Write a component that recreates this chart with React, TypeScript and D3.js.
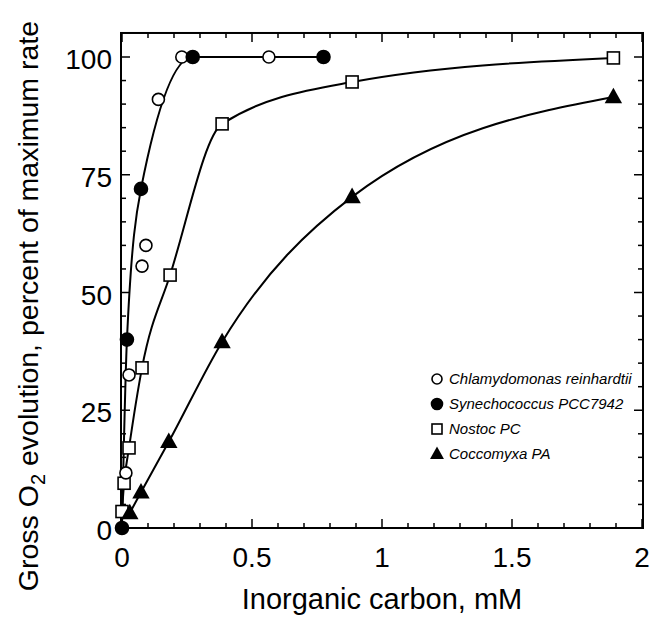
import { useRef, useEffect } from 'react';
import * as d3 from 'd3';

// Chlamydomonas reinhardtii (open circles, no curve)
const chlamyX = [0.015, 0.027, 0.077, 0.092, 0.14, 0.23, 0.565];
const chlamyY = [11.7, 32.5, 55.6, 60, 91, 100, 100];

// Synechococcus PCC7942 (filled circles)
const synX = [0, 0.019, 0.073, 0.272, 0.775];
const synY = [0, 40, 72, 100, 100];

// Nostoc PC (open squares)
const nostocX = [0, 0.008, 0.027, 0.077, 0.185, 0.385, 0.885, 1.89];
const nostocY = [3.5, 9.5, 17, 34, 53.7, 85.8, 94.7, 99.8];

// Coccomyxa PA (filled triangles)
const coccoX = [0.03, 0.073, 0.18, 0.385, 0.885, 1.89];
const coccoY = [3.2, 7.6, 18.3, 39.5, 70.3, 91.5];

const xTickLabels = ['0', '0.5', '1', '1.5', '2'];
const yTickLabels = ['0', '25', '50', '75', '100'];
const legendNames = [
  'Chlamydomonas reinhardtii',
  'Synechococcus PCC7942',
  'Nostoc PC',
  'Coccomyxa PA',
];

type Pt = { x: number; y: number };
const zip = (xs: number[], ys: number[]): Pt[] => xs.map((x, i) => ({ x, y: ys[i] }));

const FONT = "'Liberation Sans', Arial, Helvetica, sans-serif";

const App = () => {
  const svgRef = useRef<SVGSVGElement>(null);

  useEffect(() => {
    if (!svgRef.current) return;
    const width = 651;
    const height = 618;

    const svg = d3.select(svgRef.current).attr('width', width).attr('height', height);
    svg.selectAll('*').remove();

    const x = d3.scaleLinear().domain([0, 2]).range([122, 642]);
    const y = d3.scaleLinear().domain([0, 100]).range([528, 57]);
    const left = x(0) - 1;
    const right = x(2) + 1;
    const top = y(105.1);
    const bottom = y(0);

    // frame
    svg
      .append('rect')
      .attr('x', left)
      .attr('y', top)
      .attr('width', right - left)
      .attr('height', bottom - top)
      .attr('fill', 'none')
      .attr('stroke', '#000')
      .attr('stroke-width', 2);

    // ticks, inward on all four sides
    const ticks = svg.append('g').attr('stroke', '#000').attr('stroke-width', 1.5);
    d3.range(0, 2.0001, 0.1).forEach((v) => {
      const major = Math.abs(v * 2 - Math.round(v * 2)) < 1e-6;
      const len = major ? 9 : 5;
      ticks.append('line').attr('x1', x(v)).attr('x2', x(v)).attr('y1', bottom).attr('y2', bottom - len);
      ticks.append('line').attr('x1', x(v)).attr('x2', x(v)).attr('y1', top).attr('y2', top + len);
    });
    d3.range(0, 105, 5).forEach((v) => {
      const len = v % 25 === 0 ? 9 : 5;
      ticks.append('line').attr('x1', left).attr('x2', left + len).attr('y1', y(v)).attr('y2', y(v));
      ticks.append('line').attr('x1', right).attr('x2', right - len).attr('y1', y(v)).attr('y2', y(v));
    });

    // tick labels
    svg
      .append('g')
      .selectAll('text')
      .data(xTickLabels)
      .enter()
      .append('text')
      .attr('x', (d) => x(+d))
      .attr('y', bottom + 39)
      .attr('text-anchor', 'middle')
      .style('font-family', FONT)
      .style('font-size', '28px')
      .text((d) => d);

    svg
      .append('g')
      .selectAll('text')
      .data(yTickLabels)
      .enter()
      .append('text')
      .attr('x', left - 9)
      .attr('y', (d) => y(+d) + 2)
      .attr('dy', '0.36em')
      .attr('text-anchor', 'end')
      .style('font-family', FONT)
      .style('font-size', '28px')
      .text((d) => d);

    // axis titles
    svg
      .append('text')
      .attr('x', (left + right) / 2)
      .attr('y', 609)
      .attr('text-anchor', 'middle')
      .style('font-family', FONT)
      .style('font-size', '29px')
      .text('Inorganic carbon, mM');

    const yTitle = svg
      .append('text')
      .attr('transform', 'translate(38, 306) rotate(-90)')
      .attr('text-anchor', 'middle')
      .style('font-family', FONT)
      .style('font-size', '28.5px');
    yTitle.append('tspan').text('Gross O');
    yTitle.append('tspan').attr('dy', 7).style('font-size', '20px').text('2');
    yTitle.append('tspan').attr('dy', -7).text(' evolution, percent of maximum rate');

    // curves
    const line = d3
      .line<Pt>()
      .x((d) => x(d.x))
      .y((d) => y(d.y))
      .curve(d3.curveMonotoneX);

    [zip(synX, synY), zip(nostocX, nostocY), zip(coccoX, coccoY)].forEach((pts) => {
      svg
        .append('path')
        .attr('d', line(pts))
        .attr('fill', 'none')
        .attr('stroke', '#000')
        .attr('stroke-width', 2);
    });

    // markers
    const tri = (cx: number, cy: number, s: number) =>
      `M${cx},${cy - s * 0.62}L${cx + s * 0.58},${cy + s * 0.42}L${cx - s * 0.58},${cy + s * 0.42}Z`;

    const drawCircle = (g: any, cx: number, cy: number, r: number, filled: boolean) =>
      g
        .append('circle')
        .attr('cx', cx)
        .attr('cy', cy)
        .attr('r', r)
        .attr('fill', filled ? '#000' : '#fff')
        .attr('stroke', '#000')
        .attr('stroke-width', 1.6);
    const drawSquare = (g: any, cx: number, cy: number, s: number) =>
      g
        .append('rect')
        .attr('x', cx - s / 2)
        .attr('y', cy - s / 2)
        .attr('width', s)
        .attr('height', s)
        .attr('fill', '#fff')
        .attr('stroke', '#000')
        .attr('stroke-width', 1.6);
    const drawTri = (g: any, cx: number, cy: number, s: number) =>
      g.append('path').attr('d', tri(cx, cy, s)).attr('fill', '#000');

    const marks = svg.append('g');
    zip(nostocX, nostocY).forEach((d) => drawSquare(marks, x(d.x), y(d.y), 12));
    zip(coccoX, coccoY).forEach((d) => drawTri(marks, x(d.x), y(d.y), 15));
    zip(chlamyX, chlamyY).forEach((d) => drawCircle(marks, x(d.x), y(d.y), 6, false));
    zip(synX, synY).forEach((d) => drawCircle(marks, x(d.x), y(d.y), 6.5, true));

    // legend
    const legend = svg.append('g').attr('transform', 'translate(437, 379)');
    legendNames.forEach((name, i) => {
      const cy = i * 25;
      if (i === 0) drawCircle(legend, 0, cy, 5, false);
      if (i === 1) drawCircle(legend, 0, cy, 5.5, true);
      if (i === 2) drawSquare(legend, 0, cy, 10);
      if (i === 3) drawTri(legend, 0, cy, 12);
      legend
        .append('text')
        .attr('x', 12)
        .attr('y', cy)
        .attr('dy', '0.35em')
        .style('font-family', FONT)
        .style('font-size', '15px')
        .style('font-style', 'italic')
        .text(name);
    });
  }, []);

  return (
    <div style={{ position: 'absolute', left: 0, top: 0, background: '#fff' }}>
      <svg ref={svgRef}></svg>
    </div>
  );
};

export default App;
